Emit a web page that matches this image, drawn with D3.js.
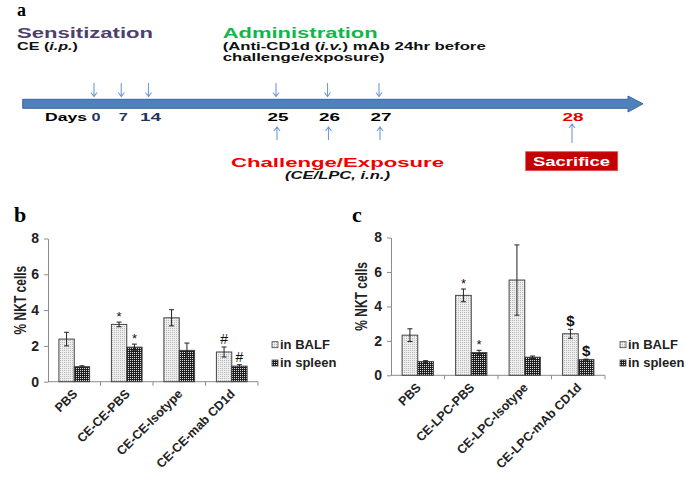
<!DOCTYPE html>
<html><head><meta charset="utf-8">
<script src="https://cdn.jsdelivr.net/npm/d3@7"></script>
<style>
body{margin:0;background:#fff}
svg{display:block}
text{font-family:"Liberation Sans",Arial,sans-serif}
</style>
</head><body>
<svg id="chart" width="697" height="485"></svg>
<script>
// ---------- data ----------
const yTicks = [0, 2, 4, 6, 8];
const seriesNames = ["in BALF", "in spleen"];

const bCategories = ["PBS", "CE-CE-PBS", "CE-CE-Isotype", "CE-CE-mab CD1d"];
const bBalf = [2.38, 3.2, 3.57, 1.66];
const bBalfErr = [0.38, 0.13, 0.45, 0.28];
const bSpleen = [0.84, 1.93, 1.75, 0.87];
const bSpleenErr = [0.05, 0.17, 0.41, 0.08];
const bBalfMarks = ["", "*", "", "#"];
const bSpleenMarks = ["", "*", "", "#"];

const cCategories = ["PBS", "CE-LPC-PBS", "CE-LPC-Isotype", "CE-LPC-mAb CD1d"];
const cBalf = [2.33, 4.64, 5.53, 2.41];
const cBalfErr = [0.37, 0.37, 2.04, 0.26];
const cSpleen = [0.8, 1.32, 1.05, 0.91];
const cSpleenErr = [0.05, 0.13, 0.07, 0.03];
const cBalfMarks = ["", "*", "", "$"];
const cSpleenMarks = ["", "*", "", "$"];

// timeline
const dayValues = [0, 7, 14, 25, 26, 27, 28];
const dayLabels = ["0", "7", "14", "25", "26", "27", "28"];
const sensitizationDays = [0, 7, 14];
const administrationDays = [25, 26, 27];
const challengeDays = [25, 26, 27];
const sacrificeDay = 28;

// ---------- drawing ----------
const svg = d3.select("#chart");
svg.append("rect").attr("width", 697).attr("height", 485).attr("fill", "#fff");

const defs = svg.append("defs");
const pl = defs.append("pattern").attr("id", "pBalf").attr("patternUnits", "userSpaceOnUse")
  .attr("width", 2).attr("height", 2);
pl.append("rect").attr("width", 2).attr("height", 2).attr("fill", "#eeeeee");
pl.append("rect").attr("width", 1).attr("height", 1).attr("fill", "#b8b8b8");
const pd = defs.append("pattern").attr("id", "pSpleen").attr("patternUnits", "userSpaceOnUse")
  .attr("width", 2).attr("height", 2);
pd.append("rect").attr("width", 2).attr("height", 2).attr("fill", "#1e1e1e");
pd.append("rect").attr("width", 1).attr("height", 1).attr("fill", "#e0e0e0");
const fills = {"in BALF": "url(#pBalf)", "in spleen": "url(#pSpleen)"};

// ---- panel a: timeline ----
const tx = d3.scaleLinear().domain([0, 14, 25, 27, 28]).range([94, 148.5, 276, 379, 571]);
const g = svg.append("g");

function txt(s, x, y, opts) {
  const t = g.append("text").attr("x", x).attr("y", y)
    .attr("font-size", opts.size).attr("font-weight", opts.weight || "bold")
    .attr("fill", opts.fill || "#111");
  if (opts.anchor) t.attr("text-anchor", opts.anchor);
  if (opts.italic) t.attr("font-style", "italic");
  if (opts.family) t.style("font-family", opts.family);
  if (opts.len) t.attr("textLength", opts.len).attr("lengthAdjust", "spacingAndGlyphs");
  if (Array.isArray(s)) {
    s.forEach(p => { const ts = t.append("tspan").text(p[0]); if (p[1]) ts.attr("font-style", "italic"); });
  } else t.text(s);
  return t;
}

txt("a", 17, 16, {size: 18, family: '"Liberation Serif",serif', fill: "#000"});
txt("Sensitization", 17, 38, {size: 14, fill: "#4e3f6e", len: 136});
txt([["CE ("], ["i.p.", true], [")"]], 17, 50, {size: 10, len: 61});
txt("Administration", 222.7, 38, {size: 14, fill: "#12b64a", len: 155});
txt([["(Anti-CD1d ("], ["i.v.", true], [") mAb 24hr before"]], 222.7, 50, {size: 10, len: 263});
txt("challenge/exposure)", 222.7, 60.5, {size: 10, len: 162});

// main arrow
const ay0 = 99.3, ay1 = 108.3, ax0 = 22.7, axh = 628, axt = 643;
g.append("path")
  .attr("d", `M${ax0},${ay0}H${axh}V96L${axt},${(ay0 + ay1) / 2}L${axh},112V${ay1}H${ax0}Z`)
  .attr("fill", "#4f81bd").attr("stroke", "#3a679c").attr("stroke-width", 1);

const arrowColor = "#6f9ad6";
function downArrow(x, y0, y1) {
  g.append("path").attr("d", `M${x},${y0}V${y1}M${x - 3},${y1 - 4}L${x},${y1}L${x + 3},${y1 - 4}`)
    .attr("fill", "none").attr("stroke", arrowColor).attr("stroke-width", 1.1);
}
function upArrow(x, y0, y1) {
  g.append("path").attr("d", `M${x},${y0}V${y1}M${x - 3},${y1 + 4}L${x},${y1}L${x + 3},${y1 + 4}`)
    .attr("fill", "none").attr("stroke", arrowColor).attr("stroke-width", 1.1);
}
sensitizationDays.concat(administrationDays).forEach(d => downArrow(tx(d), 83, 96.5));
challengeDays.forEach(d => upArrow(tx(d) + 1, 140, 127));
upArrow(tx(sacrificeDay) + 1, 143, 124);

txt("Days", 45, 120.7, {size: 10, fill: "#000", len: 42});
dayValues.forEach((d, i) => {
  const col = d < 20 ? "#1f3560" : (d === sacrificeDay ? "#e00000" : "#000");
  txt(dayLabels[i], tx(d) + 2, 120.7, {size: 10, fill: col, anchor: "middle", len: dayLabels[i].length === 1 ? 9 : 21});
});

txt("Challenge/Exposure", 231, 166.7, {size: 13, fill: "#f00000", len: 213});
txt("(CE/LPC, i.n.)", 285, 179.3, {size: 10, italic: true, len: 105});
g.append("rect").attr("x", 525.7).attr("y", 151.7).attr("width", 92).attr("height", 19)
  .attr("fill", "#c40000").attr("stroke", "#e05050").attr("stroke-width", 0.8);
txt("Sacrifice", 533, 165.8, {size: 12, fill: "#fff", len: 77});

// ---- bar panels ----
function drawPanel(p) {
  const pg = svg.append("g");
  const x = d3.scaleBand().domain(p.cats).range([p.x0, p.x1]).padding(0);
  const xs = d3.scaleBand().domain(seriesNames).range([0, x.bandwidth()]).paddingInner(0).paddingOuter(0.71);
  const y = d3.scaleLinear().domain([0, 8]).range([p.y0, p.y1]);

  pg.append("text").attr("x", p.labelX).attr("y", 222).text(p.label)
    .attr("font-size", 22).attr("font-weight", "bold").style("font-family", '"Liberation Serif",serif');

  // y axis
  const ya = pg.append("g").attr("transform", `translate(${p.x0},0)`)
    .call(d3.axisLeft(y).tickValues(yTicks).tickSize(4).tickSizeOuter(0).tickPadding(5));
  ya.attr("font-size", null).attr("font-family", null);
  ya.select(".domain").attr("stroke", "#8c8c8c");
  ya.selectAll(".tick line").attr("stroke", "#8c8c8c");
  ya.selectAll(".tick text").style("font-size", "14px").style("font-weight", "bold").attr("fill", "#222")
    .style("font-family", '"Liberation Sans",Arial,sans-serif');

  pg.append("text").attr("transform", `translate(${p.titleX},${(p.y0 + p.y1) / 2 - 10}) scale(1.3,1) rotate(-90)`)
    .attr("text-anchor", "middle").style("font-size", "12px").attr("font-weight", "bold").attr("fill", "#222")
    .text("% NKT cells");

  // x axis
  pg.append("line").attr("x1", p.x0).attr("x2", p.x1).attr("y1", p.y0).attr("y2", p.y0).attr("stroke", "#8c8c8c");
  pg.selectAll(".xt").data(p.cats).enter().append("line")
    .attr("x1", d => x(d) + x.bandwidth()).attr("x2", d => x(d) + x.bandwidth())
    .attr("y1", p.y0).attr("y2", p.y0 + 4).attr("stroke", "#8c8c8c");
  pg.selectAll(".xl").data(p.cats).enter().append("text")
    .attr("transform", d => `translate(${x(d) + x.bandwidth() / 2 + 4},${p.y0 + 13}) rotate(-45)`)
    .attr("text-anchor", "end").style("font-size", "12.5px").attr("font-weight", "bold").attr("fill", "#222")
    .text(d => d);

  const series = [
    {name: "in BALF", vals: p.balf, errs: p.balfErr, marks: p.balfMarks},
    {name: "in spleen", vals: p.spleen, errs: p.spleenErr, marks: p.spleenMarks}
  ];
  series.forEach(s => {
    const rows = p.cats.map((c, i) => ({c, v: s.vals[i], e: s.errs[i], m: s.marks[i]}));
    pg.selectAll(null).data(rows).enter().append("rect")
      .attr("x", d => x(d.c) + xs(s.name)).attr("width", xs.bandwidth())
      .attr("y", d => y(d.v)).attr("height", d => p.y0 - y(d.v))
      .attr("fill", fills[s.name]).attr("stroke", "#444").attr("stroke-width", 1);
    pg.selectAll(null).data(rows).enter().append("path")
      .attr("d", d => {
        const cx = x(d.c) + xs(s.name) + xs.bandwidth() / 2;
        const t = y(d.v + d.e), b = y(d.v - d.e);
        return `M${cx},${t}V${b}M${cx - 2.5},${t}H${cx + 2.5}M${cx - 2.5},${b}H${cx + 2.5}`;
      })
      .attr("stroke", "#222").attr("stroke-width", 1).attr("fill", "none");
    pg.selectAll(null).data(rows.filter(d => d.m)).enter().append("text")
      .attr("x", d => x(d.c) + xs(s.name) + xs.bandwidth() / 2)
      .attr("y", d => y(d.v + d.e) - (d.m === "*" ? 1 : 3))
      .attr("text-anchor", "middle")
      .style("font-size", d => d.m === "$" ? "15px" : (d.m === "#" ? "14px" : "13px"))
      .attr("font-weight", d => d.m === "$" ? "bold" : "normal")
      .attr("fill", "#111").text(d => d.m);
  });

  // legend
  seriesNames.forEach((n, i) => {
    pg.append("rect").attr("x", p.legX).attr("y", 341.7 + i * 18.3).attr("width", 6).attr("height", 6)
      .attr("fill", fills[n]).attr("stroke", "#444").attr("stroke-width", 0.8);
    pg.append("text").attr("x", p.legX + 8).attr("y", 349 + i * 18.3)
      .style("font-size", "13px").attr("font-weight", "bold").attr("fill", "#222").text(n);
  });
}

drawPanel({cats: bCategories, balf: bBalf, balfErr: bBalfErr, spleen: bSpleen, spleenErr: bSpleenErr,
  balfMarks: bBalfMarks, spleenMarks: bSpleenMarks,
  x0: 48, x1: 258, y0: 381.7, y1: 238.5, label: "b", labelX: 14, titleX: 26, legX: 272});
drawPanel({cats: cCategories, balf: cBalf, balfErr: cBalfErr, spleen: cSpleen, spleenErr: cSpleenErr,
  balfMarks: cBalfMarks, spleenMarks: cSpleenMarks,
  x0: 391, x1: 605, y0: 375.3, y1: 237.5, label: "c", labelX: 352, titleX: 367, legX: 620});
</script>
</body></html>
